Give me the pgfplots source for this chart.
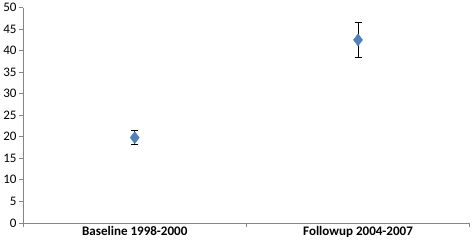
\documentclass[border=0pt]{standalone}
\usepackage{pgfplots}
\pgfplotsset{compat=1.18}
\usepackage{fontspec}
\setmainfont{Carlito}
\definecolor{mblue}{HTML}{4F81BD}
\definecolor{axgray}{HTML}{868686}
\begin{document}
\begin{tikzpicture}[x=1bp,y=1bp]
\begin{axis}[
  scale only axis,
  width=444bp, height=214bp,
  xmin=0, xmax=2, ymin=0, ymax=50,
  ytick={0,5,...,50},
  xtick={0,1,2},
  xticklabels={},
  extra x ticks={0.5,1.5},
  extra x tick labels={\textbf{Baseline 1998-2000},\textbf{Followup 2004-2007}},
  extra x tick style={major tick length=0pt, tick label style={yshift=0bp}},
  axis x line*=bottom, axis y line*=left,
  axis line style={axgray, -},
  tick style={axgray, line width=0.6pt},
  major tick length=4bp,
  tick align=outside,
  y tick label style={font=\fontsize{13}{14}\selectfont, xshift=1bp},
  x tick label style={font=\fontsize{13}{14}\selectfont},
  /pgf/number format/assume math mode=true,
  clip=false,
]
\addplot[only marks, mark=diamond*, mark size=6bp, mark options={fill=mblue, draw=mblue},
  error bars/.cd, y dir=both, y explicit,
  error bar style={black, line width=0.9pt},
  error mark options={rotate=90, mark size=3.5bp, line width=0.9pt, black}]
  coordinates {(0.5,19.8) +- (0,1.7) (1.5,42.5) +- (0,4.0)};
\end{axis}
\end{tikzpicture}
\end{document}
